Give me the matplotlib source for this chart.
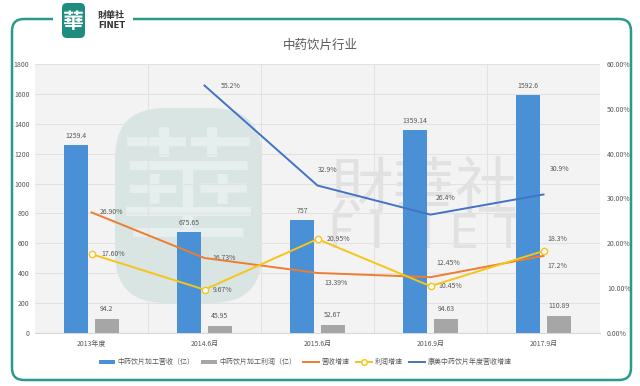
import matplotlib
matplotlib.use("Agg")
import matplotlib.pyplot as plt
from matplotlib.patches import FancyBboxPatch, Rectangle
from matplotlib.lines import Line2D
import numpy as np

plt.rcParams['font.family'] = ['Noto Sans CJK SC', 'DejaVu Sans']

# ---- data ----
categories = ['2013年度', '2014.6月', '2015.6月', '2016.9月', '2017.9月']
revenue = [1259.4, 675.65, 757, 1359.14, 1592.6]
profit = [94.2, 45.95, 52.67, 94.63, 110.89]
rev_growth = [26.90, 16.73, 13.39, 12.45, 17.2]
rev_growth_lbl = ['26.90%', '16.73%', '13.39%', '12.45%', '17.2%']
profit_growth = [17.60, 9.67, 20.95, 10.45, 18.3]
profit_growth_lbl = ['17.60%', '9.67%', '20.95%', '10.45%', '18.3%']
kangmei_growth = [np.nan, 55.2, 32.9, 26.4, 30.9]
kangmei_lbl = ['', '55.2%', '32.9%', '26.4%', '30.9%']
left_ticks = list(range(0, 1801, 200))
right_ticks = [0, 10, 20, 30, 40, 50, 60]

legend_labels = ['中药饮片加工营收（亿）', '中药饮片加工利润（亿）', '营收增速', '利润增速', '康美中药饮片年度营收增速']

C_BLUE = '#4a90d6'
C_GRAY = '#a6a6a6'
C_ORANGE = '#ed7d31'
C_YELLOW = '#f5c518'
C_LINE = '#4472c4'
C_TEXT = '#595959'
C_TEAL = '#2a9a8c'

W, H = 640, 386
fig = plt.figure(figsize=(6.4, 3.86), dpi=100)
fig.patch.set_facecolor('white')

# background / decoration axes in pixel coordinates
ax0 = fig.add_axes([0, 0, 1, 1], zorder=0)
ax0.set_xlim(0, W)
ax0.set_ylim(H, 0)
ax0.axis('off')

# rounded frame
frame = FancyBboxPatch((12, 19), 619, 361, boxstyle='round,pad=0,rounding_size=12',
                       fc='white', ec=C_TEAL, lw=1.8)
ax0.add_patch(frame)
ax0.add_patch(Rectangle((53, 12), 80, 14, fc='white', ec='none'))
# logo
ax0.add_patch(FancyBboxPatch((62, 3), 23, 35, boxstyle='round,pad=0,rounding_size=5',
                             fc='#1f8c80', ec='none'))
ax0.text(73.5, 21, '華', color='white', fontsize=15, ha='center', va='center',
         family=['Noto Sans CJK TC', 'DejaVu Sans'], fontweight='bold')
ax0.text(98, 15, '財華社', color='#333333', fontsize=6.5, ha='left', va='center',
         family=['Noto Sans CJK TC', 'DejaVu Sans'], fontweight='bold')
ax0.text(98, 26, 'FINET', color='#333333', fontsize=6, ha='left', va='center',
         fontweight='bold', family=['DejaVu Sans'])

# title
ax0.text(320, 45, '中药饮片行业', color=C_TEXT, fontsize=9, ha='center', va='center')

# plot area background
ax0.add_patch(Rectangle((35, 64), 565, 269, fc='#f3f3f3', ec='none'))

# watermark
ax0.add_patch(FancyBboxPatch((115, 108), 147, 195, boxstyle='round,pad=0,rounding_size=50',
                             fc='#b9d6d0', ec='none', alpha=0.45, zorder=1))
ax0.text(188, 205, '華', color='white', fontsize=100, ha='center', va='center', alpha=0.4,
         family=['Noto Sans CJK TC', 'DejaVu Sans'], zorder=1)
ax0.text(425, 192, '財華社', color='#9a9a9a', fontsize=45, ha='center', va='center', alpha=0.2,
         family=['Noto Sans CJK TC', 'DejaVu Sans'], zorder=1)
ax0.text(425, 236, 'F I N E T', color='#9a9a9a', fontsize=34, ha='center', va='center', alpha=0.2,
         family=['DejaVu Sans'], zorder=1)

# ---- main axes ----
L, R, T, B = 35, 600, 64, 333
ax = fig.add_axes([L / W, 1 - B / H, (R - L) / W, (B - T) / H], zorder=2)
ax.set_facecolor('none')
x = np.arange(len(categories))
ax.set_xlim(-0.5, len(categories) - 0.5)
ax.set_ylim(0, 1800)
ax.set_yticks(left_ticks)
ax.set_yticklabels([str(v) for v in left_ticks])
ax.set_xticks(x)
ax.set_xticklabels(categories)
ax.tick_params(axis='both', length=0, labelsize=5, colors=C_TEXT, pad=4)
ax.tick_params(axis='x', pad=5)
for s in ax.spines.values():
    s.set_visible(False)
ax.spines['bottom'].set_visible(True)
ax.spines['bottom'].set_color('#d9d9d9')
ax.set_axisbelow(True)
ax.grid(axis='y', color='#e2e2e2', lw=0.8)
for b in np.arange(0.5, len(categories) - 0.5, 1):
    ax.axvline(b, color='#e2e2e2', lw=0.8, zorder=0)

bw = 0.21
off = 0.135
ax.bar(x - off, revenue, bw, color=C_BLUE, zorder=3)
ax.bar(x + off, profit, bw, color=C_GRAY, zorder=3)
for xi, v in zip(x, revenue):
    ax.annotate(f'{v:g}', (xi - off, v), xytext=(0, 9), textcoords='offset pixels',
                ha='center', va='center', fontsize=5, color=C_TEXT)
for xi, v in zip(x, profit):
    ax.annotate(f'{v:g}', (xi + off, v), xytext=(0, 10), textcoords='offset pixels',
                ha='center', va='center', fontsize=5, color=C_TEXT)

# ---- right axes ----
ax2 = ax.twinx()
ax2.set_zorder(3)
ax2.set_ylim(0, 60)
ax2.set_yticks(right_ticks)
ax2.set_yticklabels([f'{v:.2f}%' for v in right_ticks])
ax2.tick_params(axis='y', length=0, labelsize=5, colors=C_TEXT, pad=5)
for s in ax2.spines.values():
    s.set_visible(False)

ax2.plot(x, rev_growth, color=C_ORANGE, lw=1.4, zorder=4)
ax2.plot(x, profit_growth, color=C_YELLOW, lw=1.4, marker='o', ms=4.5,
         mfc='white', mec=C_YELLOW, mew=1.0, zorder=5)
ax2.plot(x, kangmei_growth, color=C_LINE, lw=1.4, zorder=4)

rev_off = [(8, 0), (8, 0), (7, -10), (6, 14), (4, -10)]
prof_off = [(10, 0), (8, 0), (9, 0), (8, 0), (4, 12)]
km_off = [(0, 0), (16, 0), (0, 15), (5, 17), (6, 25)]
for xi, v, lb, o in zip(x, rev_growth, rev_growth_lbl, rev_off):
    ax2.annotate(lb, (xi, v), xytext=o, textcoords='offset pixels', ha='left', va='center',
                 fontsize=5, color=C_TEXT)
for xi, v, lb, o in zip(x, profit_growth, profit_growth_lbl, prof_off):
    ax2.annotate(lb, (xi, v), xytext=o, textcoords='offset pixels', ha='left', va='center',
                 fontsize=5, color=C_TEXT)
for xi, v, lb, o in zip(x, kangmei_growth, kangmei_lbl, km_off):
    if lb:
        ax2.annotate(lb, (xi, v), xytext=o, textcoords='offset pixels', ha='left', va='center',
                     fontsize=5, color=C_TEXT)

# ---- legend ----
handles = [
    Rectangle((0, 0), 1, 1, fc=C_BLUE, ec='none'),
    Rectangle((0, 0), 1, 1, fc=C_GRAY, ec='none'),
    Line2D([], [], color=C_ORANGE, lw=1.4),
    Line2D([], [], color=C_YELLOW, lw=1.4, marker='o', ms=4, mfc='white', mec=C_YELLOW),
    Line2D([], [], color=C_LINE, lw=1.4),
]
leg = fig.legend(handles, legend_labels, loc='center', bbox_to_anchor=(305 / W, 1 - 362 / H),
                 ncol=5, frameon=False, fontsize=5, handlelength=2.3, handleheight=0.5,
                 columnspacing=0.9, handletextpad=0.4)
for t in leg.get_texts():
    t.set_color(C_TEXT)

fig.savefig('out.png', dpi=100, facecolor='white')
